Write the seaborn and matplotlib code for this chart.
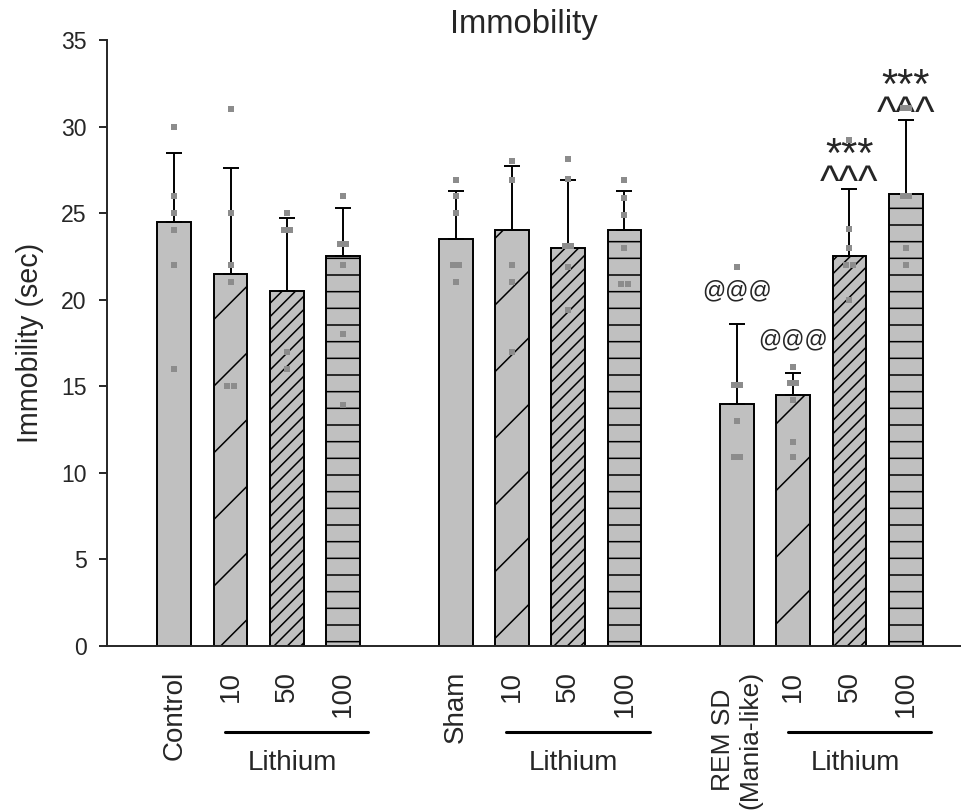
import numpy as np
import pandas as pd
import matplotlib.pyplot as plt
import seaborn as sns
from matplotlib import transforms

# ── Data ──────────────────────────────────────────────────────────────────────
labels = ["Control", "10", "50", "100",
          "Sham", "10", "50", "100",
          "REM SD\n(Mania-like)", "10", "50", "100"]
means = [24.5, 21.5, 20.5, 22.5,
         23.5, 24.0, 23.0, 24.0,
         14.0, 14.5, 22.5, 26.1]
errors = [4.0, 6.1, 4.2, 2.8,
          2.8, 3.7, 3.9, 2.3,
          4.6, 1.25, 3.9, 4.3]
points = [
    [30, 26, 25, 24, 22, 16],
    [31, 25, 22, 21, 15, 15],
    [25, 24, 24, 17, 16],
    [26, 23.2, 23.2, 22, 18, 13.9],
    [26.9, 26, 25, 22, 22, 21],
    [28, 26.9, 22, 21, 17],
    [28.1, 27, 23.1, 23.1, 21.9, 19.4],
    [26.9, 25.9, 24.9, 23, 20.9, 20.9],
    [21.9, 15.1, 15.1, 13, 10.9, 10.9],
    [16.1, 15.2, 15.2, 14.2, 11.8, 10.9],
    [29.2, 24.1, 23, 22, 22, 20],
    [31.1, 31.1, 26, 26, 23, 22],
]
at_marks = {8: "@@@", 9: "@@@"}
star_marks = {10: "***\n^^^", 11: "***\n^^^"}
group_label = "Lithium"

hatches = ["", "/", "/////", "--"] * 3

# ── Figure setup ──────────────────────────────────────────────────────────────
sns.set_style("ticks")
plt.rcParams["font.family"] = ["Liberation Sans", "DejaVu Sans"]
plt.rcParams["hatch.linewidth"] = 0.55
plt.rcParams["hatch.color"] = "black"

fig = plt.figure(figsize=(4.81, 4.05), dpi=200)
ax = fig.add_axes([0.111, 0.2025, 0.889, 0.7481])

pos = [i + i // 4 for i in range(len(means))]

bars = pd.DataFrame({"pos": pos, "mean": means})
sns.barplot(data=bars, x="pos", y="mean", native_scale=True, width=0.6,
            color="#c0c0c0", saturation=1, edgecolor="black", linewidth=0.7,
            errorbar=None, ax=ax, zorder=2)
for patch, h in zip(ax.patches, hatches):
    patch.set_hatch(h)

ax.errorbar(pos, means, yerr=[np.zeros(len(errors)), errors], fmt="none",
            ecolor="black", elinewidth=0.7, capsize=2.9, capthick=0.7, zorder=3)

# individual animals, duplicates nudged side by side
rows = []
for p, vals in zip(pos, points):
    for v in vals:
        n = vals.count(v)
        k = sum(1 for r in rows if r[0] == p and r[2] == v)
        rows.append((p, p + (k - (n - 1) / 2) * 0.11, v))
dots = pd.DataFrame(rows, columns=["grp", "x", "y"])
sns.scatterplot(data=dots, x="x", y="y", marker="s", color="#8c8c8c", s=3.5,
                linewidth=0, ax=ax, zorder=4, legend=False)

# significance marks
for i, txt in at_marks.items():
    ax.text(pos[i], means[i] + errors[i] + 1.9, txt, ha="center", va="center",
            fontsize=8.3)
for i, txt in star_marks.items():
    ax.text(pos[i], means[i] + errors[i] - 0.35, txt, ha="center",
            va="baseline", fontsize=15, linespacing=0.6,
            multialignment="center")

# ── Axes styling ──────────────────────────────────────────────────────────────
ax.set_xlim(-1.2, 14.0)
ax.set_ylim(0, 35)
ax.set_yticks(range(0, 36, 5))
ax.set_xticks(pos)
ax.set_xticklabels(labels, rotation=90, fontsize=10, multialignment="center")
ax.get_xticklabels()[8].set_fontsize(9.5)
ax.tick_params(axis="x", length=0, pad=9)
ax.tick_params(axis="y", length=2.9, width=0.7, labelsize=8.3, pad=4.3)
for side in ["left", "bottom"]:
    ax.spines[side].set_linewidth(0.7)
sns.despine(ax=ax)
ax.set_xlabel("")
ax.set_ylabel("Immobility (sec)", fontsize=10.3, labelpad=6)
ax.set_title("Immobility", fontsize=11.8, x=0.488, pad=1)

# "Lithium" group brackets under the dose labels
trans = transforms.blended_transform_factory(ax.transData, ax.transAxes)
for g in range(3):
    first, last, mid = pos[g * 4 + 1], pos[g * 4 + 3], pos[g * 4 + 2]
    ax.plot([first - 0.1, last + 0.45], [-0.142, -0.142], color="black",
            lw=1.1, transform=trans, clip_on=False)
    ax.text(mid + 0.1, -0.193, group_label, ha="center", va="center",
            fontsize=10, transform=trans)

fig.savefig("out.png", dpi=200)
